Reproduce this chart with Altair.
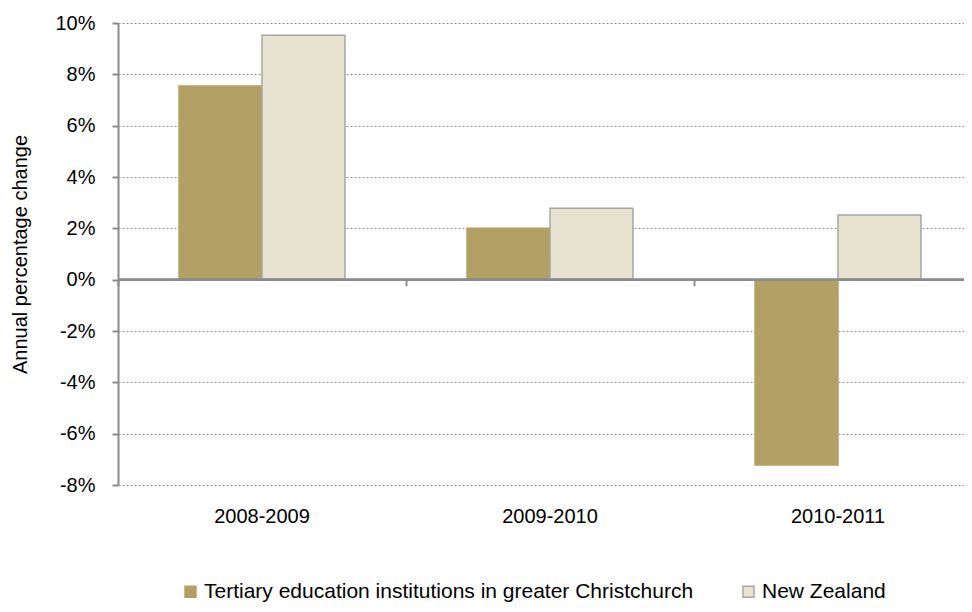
import altair as alt
import pandas as pd

periods = ["2008-2009", "2009-2010", "2010-2011"]
series = ["Tertiary education institutions in greater Christchurch", "New Zealand"]
chc_values = [7.55, 2.0, -7.22]
nz_values = [9.52, 2.78, 2.52]
y_ticks = [-8, -6, -4, -2, 0, 2, 4, 6, 8, 10]
fills = ["#B3A064", "#E8E2D0"]
strokes = ["#B3A064", "#A6A6A6"]

rows = []
for p, a, b in zip(periods, chc_values, nz_values):
    rows.append({"Period": p, "Series": series[0], "Value": a})
    rows.append({"Period": p, "Series": series[1], "Value": b})
df = pd.DataFrame(rows)

FONT = "Liberation Sans"
GRAY = "#8C8C8C"

xscale = alt.Scale(domain=periods, range=[0, 864], paddingInner=0.424, paddingOuter=0.212)
xscale_ticks = alt.Scale(domain=periods, range=[0, 864], paddingInner=0, paddingOuter=0)
yscale = alt.Scale(domain=[-8, 10], nice=False, zero=False)

base = alt.Chart(df)

bars = base.mark_bar(strokeWidth=1.5).encode(
    x=alt.X("Period:N", scale=xscale, sort=periods,
            axis=alt.Axis(orient="bottom", title=None, domain=False, ticks=False, grid=False,
                          labelAngle=0, labelFontSize=20, labelFont=FONT, labelColor="#000000",
                          labelPadding=21)),
    xOffset=alt.XOffset("Series:N", sort=series, scale=alt.Scale(paddingInner=0, paddingOuter=0)),
    y=alt.Y("Value:Q", scale=yscale,
            axis=alt.Axis(title="Annual percentage change", values=y_ticks,
                          labelExpr="datum.value + '%'",
                          labelFontSize=20, labelFont=FONT, labelColor="#000000",
                          labelPadding=17, tickSize=6, tickColor=GRAY, tickWidth=2,
                          domainColor=GRAY, domainWidth=2,
                          grid=True, gridColor=GRAY, gridDash=[2, 2], gridWidth=1,
                          titleFontSize=20, titleFont=FONT, titleFontWeight="normal",
                          titleColor="#000000", titleX=-98, titleY=231,
                          titleAngle=270, titleAlign="center", titleBaseline="middle")),
    color=alt.Color("Series:N", scale=alt.Scale(domain=series, range=fills),
                    legend=alt.Legend(title=None, orient="none", legendX=62, legendY=558,
                                      direction="horizontal", columns=2, symbolType="square",
                                      symbolSize=121, symbolStrokeWidth=1.5,
                                      labelFontSize=21, labelFont=FONT, labelColor="#000000",
                                      labelLimit=1000, columnPadding=44, labelOffset=3)),
    stroke=alt.Stroke("Series:N", scale=alt.Scale(domain=series, range=strokes), legend=None),
)

zero_line = base.mark_rule(color=GRAY, strokeWidth=2).encode(y=alt.datum(0))

zero_axis = base.mark_point(opacity=0).encode(
    x=alt.X("Period:N", scale=xscale_ticks, sort=periods,
            axis=alt.Axis(orient="bottom", offset=-205.33, title=None, labels=False,
                          domain=False, ticks=True, tickBand="extent", tickSize=6,
                          tickColor=GRAY, tickWidth=2, grid=False, zindex=2)),
    y=alt.Y("Value:Q", scale=yscale),
)

chart = alt.layer(bars, zero_line, zero_axis).resolve_scale(x="independent").resolve_axis(
    x="independent"
).properties(
    width=846, height=462,
    autosize=alt.AutoSizeParams(type="none"),
    padding={"left": 110, "top": 15, "right": 0, "bottom": 119},
).configure_view(stroke=None)

chart.save("out.html", embed_options={"renderer": "svg", "actions": False})
